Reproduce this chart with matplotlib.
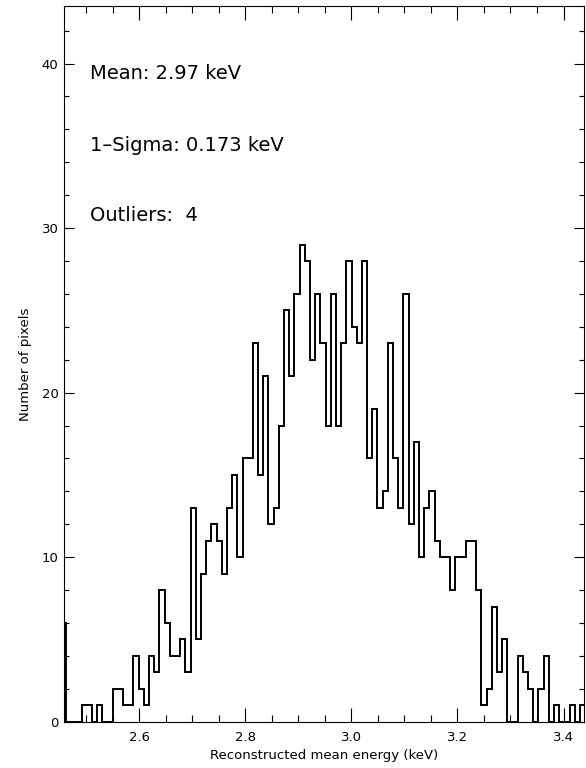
import numpy as np
import matplotlib
matplotlib.use('Agg')
import matplotlib.pyplot as plt
from matplotlib.ticker import MultipleLocator, FixedLocator

# histogram of reconstructed mean energy per pixel
bin_lo, bin_w = 2.452, 0.00979
counts = [6, 0, 0, 0, 1, 1, 0, 1, 0, 0,
          2, 2, 1, 1, 4, 2, 1, 4, 3, 8,
          6, 4, 4, 5, 3, 13, 5, 9, 11, 12,
          11, 9, 13, 15, 10, 16, 16, 23, 15, 21,
          12, 13, 18, 25, 21, 26, 29, 28, 22, 26,
          23, 18, 26, 18, 23, 28, 24, 23, 28, 16,
          19, 13, 14, 23, 16, 13, 26, 12, 17, 10,
          13, 14, 11, 10, 10, 8, 10, 10, 11, 11,
          8, 1, 2, 7, 3, 5, 0, 0, 4, 3,
          2, 0, 2, 4, 0, 1, 0, 0, 1, 0,
          1]
x_range = (2.458, 3.4377)
x_ticks = [2.6, 2.8, 3.0, 3.2, 3.4]
x_labels = ['2.6', '2.8', '3.0', '3.2', '3.4']
y_ticks = [0, 10, 20, 30, 40]

mean_kev = 2.97
sigma_kev = 0.173
n_outliers = 4

edges = bin_lo + bin_w * np.arange(len(counts) + 1)

W, H = 586, 768
fig = plt.figure(figsize=(W / 100, H / 100), dpi=100)
ax = fig.add_axes([64 / W, 1 - 721.7 / H, (583.5 - 64) / W, (721.7 - 6) / H])

ax.stairs(counts, edges, color='black', lw=1.4)

ax.set_xlim(*x_range)
ax.set_ylim(0, 1.5 * max(counts[1:]))

ax.xaxis.set_major_locator(FixedLocator(x_ticks))
ax.set_xticklabels(x_labels)
ax.xaxis.set_minor_locator(MultipleLocator(0.05))
ax.yaxis.set_major_locator(FixedLocator(y_ticks))
ax.yaxis.set_minor_locator(MultipleLocator(2))

ax.tick_params(which='both', direction='in', top=True, right=True,
               width=0.8, colors='black', labelsize=9.5)
ax.tick_params(axis='x', which='major', length=10, pad=7)
ax.tick_params(axis='x', which='minor', length=4.8)
ax.tick_params(axis='y', which='major', length=7.5, pad=4)
ax.tick_params(axis='y', which='minor', length=3.8)
for s in ax.spines.values():
    s.set_linewidth(0.8)

ax.set_xlabel('Reconstructed mean energy (keV)', fontsize=9.5, labelpad=3)
ax.set_ylabel('Number of pixels', fontsize=9.5, labelpad=7)

txt = dict(transform=ax.transAxes, fontsize=14, va='baseline', ha='left')
ax.text(0.05, 0.8976, f'Mean: {mean_kev:.2f} keV', **txt)
ax.text(0.05, 0.7974, f'1\u2013Sigma: {sigma_kev:.3f} keV', **txt)
ax.text(0.05, 0.6996, f'Outliers:  {n_outliers}', **txt)

fig.savefig('out.png', dpi=100)
